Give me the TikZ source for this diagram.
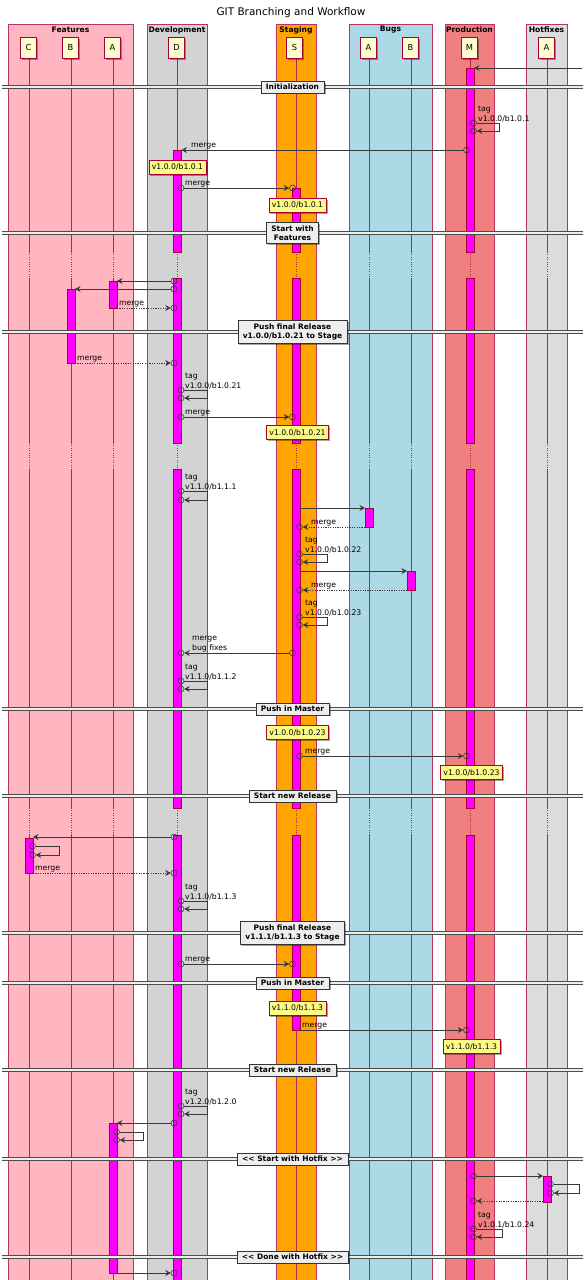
\documentclass[tikz,border=0pt]{standalone}
\usepackage{fontspec}
\setmainfont{DejaVu Sans}
\usetikzlibrary{arrows.meta,shadows}
\definecolor{pbord}{HTML}{A80036}
\definecolor{actc}{HTML}{FF00FF}
\definecolor{notec}{HTML}{FBFB86}
\definecolor{partc}{HTML}{FEFECE}
\definecolor{featc}{HTML}{FFB6C1}
\definecolor{devc}{HTML}{D3D3D3}
\definecolor{stagec}{HTML}{FFA500}
\definecolor{bugc}{HTML}{ADD8E6}
\definecolor{prodc}{HTML}{F08080}
\definecolor{hotc}{HTML}{DCDCDC}
\definecolor{arrc}{HTML}{383838}
\definecolor{divc}{HTML}{EEEEEE}
\tikzset{
 grp/.style={draw=pbord!80, line width=0.4pt},
 grplabel/.style={font=\fontsize{7.6}{9}\selectfont\bfseries, anchor=center, inner sep=0pt},
 pshadow/.style={drop shadow={shadow xshift=1.5pt, shadow yshift=-1.5pt, fill=black, opacity=0.35}},
 part/.style={draw=pbord, fill=partc, line width=0.5pt, minimum width=16pt, minimum height=21pt, inner sep=0pt, font=\fontsize{8.3}{9}\selectfont},
 life/.style={draw=pbord!85, line width=0.4pt},
 delayline/.style={draw=pbord!85, line width=0.4pt, dash pattern=on 0.8pt off 1.6pt},
 actbar/.style={draw=pbord, fill=actc, line width=0.4pt},
 msgarrow/.style={draw=arrc, line width=0.6pt, -{Stealth[length=5.5pt,width=6pt,inset=2pt]}},
 retarrow/.style={msgarrow, dash pattern=on 1.2pt off 1.2pt},
 odot/.style={circle, draw=arrc, line width=0.6pt, minimum size=6pt, inner sep=0pt},
 lbl/.style={font=\fontsize{7.7}{9.3}\selectfont, inner sep=0pt, anchor=south west, align=left},
 notebox/.style={draw=pbord, fill=notec, line width=0.5pt, font=\fontsize{7.7}{9}\selectfont, inner xsep=3pt, inner ysep=0pt, minimum height=14pt},
 divbox/.style={draw=black!80, fill=divc, line width=0.6pt, font=\fontsize{7.5}{9.3}\selectfont\bfseries, inner xsep=5pt, inner ysep=3pt, align=center},
}
\def\pxC{29}\def\pxB{71}\def\pxA{113}\def\pxD{177.5}\def\pxS{296}
\def\pxBA{369}\def\pxBB{411}\def\pxM{470}\def\pxH{547}
\newcommand\actbar[3]{\filldraw[actbar] (#1-4,#2) rectangle (#1+4,#3);}
\newcommand\divider[3]{%
 \fill[divc] (2,#1-1.5) rectangle (583,#1+1.5);
 \draw[black!70, line width=0.6pt] (2,#1-1.5) -- (583,#1-1.5) (2,#1+1.5) -- (583,#1+1.5);
 \node[divbox, pshadow] (#2) at (292.5,#1) {#3};}
\newcommand\selfloop[5]{% name, x, y1, y2, xr
 \node[odot] (#1a) at (#2,#3) {};
 \node[odot] (#1b) at (#2,#4) {};
 \coordinate (#1r) at (#5,#3);
 \coordinate (#1q) at (#5,#4);
 \draw[msgarrow] (#1a) -- (#1r) -- (#1q) -- (#1b);}
\begin{document}
\begin{tikzpicture}[x=1pt,y=-1pt]
\useasboundingbox (0,0) rectangle (588,1280);
\fill[white] (0,0) rectangle (588,1280);
\node[font=\fontsize{10.5}{12}\selectfont] (title) at (291,13) {GIT Branching and Workflow};
% groups
\draw[grp, fill=featc] (8,24) rectangle (133,1290);
\draw[grp, fill=devc] (147,24) rectangle (207,1290);
\draw[grp, fill=stagec] (276,24) rectangle (316,1290);
\draw[grp, fill=bugc] (349,24) rectangle (432,1290);
\draw[grp, fill=prodc] (445,24) rectangle (494,1290);
\draw[grp, fill=hotc] (526,24) rectangle (567,1290);
\node[grplabel] (gF) at (70.5,30) {Features};
\node[grplabel] (gD) at (177,30) {Development};
\node[grplabel] (gS) at (296,30) {Staging};
\node[grplabel] (gB) at (390.5,30) {Bugs};
\node[grplabel] (gP) at (469.5,30) {Production};
\node[grplabel] (gH) at (546.5,30) {Hotfixes};
% lifelines
\foreach \x in {\pxC,\pxB,\pxA,\pxD,\pxS,\pxBA,\pxBB,\pxM,\pxH}{
 \draw[life] (\x,58) -- (\x,252);
 \draw[delayline] (\x,252) -- (\x,278);
 \draw[life] (\x,278) -- (\x,443);
 \draw[delayline] (\x,443) -- (\x,469);
 \draw[life] (\x,469) -- (\x,808);
 \draw[delayline] (\x,808) -- (\x,835);
 \draw[life] (\x,835) -- (\x,1290);
}
% participants
\node[part, pshadow] (pC) at (\pxC-0.5,47.5) {C};
\node[part, pshadow] (pB) at (\pxB-0.5,47.5) {B};
\node[part, pshadow] (pA) at (\pxA-0.5,47.5) {A};
\node[part, pshadow] (pD) at (\pxD-1,47.5) {D};
\node[part, pshadow] (pS) at (\pxS-1.5,47.5) {S};
\node[part, pshadow] (pBA) at (\pxBA-0.5,47.5) {A};
\node[part, pshadow] (pBB) at (\pxBB-0.5,47.5) {B};
\node[part, pshadow] (pM) at (\pxM-0.5,47.5) {M};
\node[part, pshadow] (pH) at (\pxH-0.5,47.5) {A};
% activation bars
\actbar{\pxD}{150}{252}\actbar{\pxD}{278}{443}\actbar{\pxD}{469}{808}\actbar{\pxD}{835}{1290}
\actbar{\pxS}{188}{252}\actbar{\pxS}{278}{443}\actbar{\pxS}{469}{808}\actbar{\pxS}{835}{1030}
\actbar{\pxM}{68}{252}\actbar{\pxM}{278}{443}\actbar{\pxM}{469}{808}\actbar{\pxM}{835}{1290}
\actbar{\pxA}{281}{308}\actbar{\pxA}{1123}{1273}
\actbar{\pxB}{289}{363}
\actbar{\pxBA}{508}{527}
\actbar{\pxBB}{571}{590}
\actbar{\pxC}{838}{873}
\actbar{\pxH}{1176}{1202}
% messages
\coordinate (m1a) at (582,68); \coordinate (m1b) at (474,68);
\draw[msgarrow] (m1a) -- (m1b);
\divider{87}{d1}{Initialization}
\selfloop{s1}{473.5}{123}{131}{499}
\node[lbl] (s1l) at (478,122) {tag\\v1.0.0/b1.0.1};
\node[odot] (m2a) at (466.5,150) {}; \coordinate (m2b) at (181.5,150);
\draw[msgarrow] (m2a) -- (m2b);
\node[lbl] (m2l) at (191,149) {merge};
\node[notebox,pshadow] (n1) at (177.5,167) {v1.0.0/b1.0.1};
\node[odot] (m3a) at (181,188) {}; \node[odot] (m3b) at (292.5,188) {};
\draw[msgarrow] (m3a) -- (m3b);
\node[lbl] (m3l) at (185,187) {merge};
\node[notebox,pshadow] (n2) at (297.5,205) {v1.0.0/b1.0.1};
\divider{233}{d2}{Start with\\Features}
\node[odot] (m4a) at (174,281) {}; \coordinate (m4b) at (117,281);
\draw[msgarrow] (m4a) -- (m4b);
\node[odot] (m5a) at (174,289) {}; \coordinate (m5b) at (75,289);
\draw[msgarrow] (m5a) -- (m5b);
\coordinate (m6a) at (117,308); \node[odot] (m6b) at (174,308) {};
\draw[retarrow] (m6a) -- (m6b);
\node[lbl] (m6l) at (119,307) {merge};
\divider{332}{d3}{Push final Release\\v1.0.0/b1.0.21 to Stage}
\coordinate (m7a) at (75,363); \node[odot] (m7b) at (174,363) {};
\draw[retarrow] (m7a) -- (m7b);
\node[lbl] (m7l) at (77,362) {merge};
\selfloop{s2}{181}{390}{398}{207}
\node[lbl] (s2l) at (185,389) {tag\\v1.0.0/b1.0.21};
\node[odot] (m8a) at (181,417) {}; \node[odot] (m8b) at (292.5,417) {};
\draw[msgarrow] (m8a) -- (m8b);
\node[lbl] (m8l) at (185,416) {merge};
\node[notebox,pshadow] (n3) at (297.5,432.5) {v1.0.0/b1.0.21};
\selfloop{s3}{181}{491}{500}{207}
\node[lbl] (s3l) at (185,490) {tag\\v1.1.0/b1.1.1};
\coordinate (m9a) at (300,508); \coordinate (m9b) at (365,508);
\draw[msgarrow] (m9a) -- (m9b);
\coordinate (m10a) at (365,527); \node[odot] (m10b) at (299.5,527) {};
\draw[retarrow] (m10a) -- (m10b);
\node[lbl] (m10l) at (311,526) {merge};
\selfloop{s4}{299.5}{554}{562}{327}
\node[lbl] (s4l) at (305,553) {tag\\v1.0.0/b1.0.22};
\coordinate (m11a) at (300,571); \coordinate (m11b) at (407,571);
\draw[msgarrow] (m11a) -- (m11b);
\coordinate (m12a) at (407,590); \node[odot] (m12b) at (299.5,590) {};
\draw[retarrow] (m12a) -- (m12b);
\node[lbl] (m12l) at (311,589) {merge};
\selfloop{s5}{299.5}{617}{625}{327}
\node[lbl] (s5l) at (305,616) {tag\\v1.0.0/b1.0.23};
\node[odot] (m13a) at (292.5,653) {}; \node[odot] (m13b) at (181,653) {};
\draw[msgarrow] (m13a) -- (m13b);
\node[lbl] (m13l) at (192,652) {merge\\bug fixes};
\selfloop{s6}{181}{681}{689}{207}
\node[lbl] (s6l) at (185,680) {tag\\v1.1.0/b1.1.2};
\divider{709}{d4}{Push in Master}
\node[notebox,pshadow] (n4) at (297.5,732.5) {v1.0.0/b1.0.23};
\node[odot] (m14a) at (299.5,756) {}; \node[odot] (m14b) at (466.5,756) {};
\draw[msgarrow] (m14a) -- (m14b);
\node[lbl] (m14l) at (305,755) {merge};
\node[notebox,pshadow] (n5) at (471.5,772.5) {v1.0.0/b1.0.23};
\divider{796}{d5}{Start new Release}
\node[odot] (m15a) at (174,837) {}; \coordinate (m15b) at (33,837);
\draw[msgarrow] (m15a) -- (m15b);
\selfloop{s7}{32.5}{846}{855}{59}
\coordinate (m16a) at (33,873); \node[odot] (m16b) at (174,873) {};
\draw[retarrow] (m16a) -- (m16b);
\node[lbl] (m16l) at (35,872) {merge};
\selfloop{s8}{181}{901}{909}{207}
\node[lbl] (s8l) at (185,900) {tag\\v1.1.0/b1.1.3};
\divider{933}{d6}{Push final Release\\v1.1.1/b1.1.3 to Stage}
\node[odot] (m17a) at (181,964) {}; \node[odot] (m17b) at (292.5,964) {};
\draw[msgarrow] (m17a) -- (m17b);
\node[lbl] (m17l) at (185,963) {merge};
\divider{983}{d7}{Push in Master}
\node[notebox,pshadow] (n6) at (297.5,1008) {v1.1.0/b1.1.3};
\coordinate (m18a) at (300,1030); \node[odot] (m18b) at (466.5,1030) {};
\draw[msgarrow] (m18a) -- (m18b);
\node[lbl] (m18l) at (302,1029) {merge};
\node[notebox,pshadow] (n7) at (471.5,1046.5) {v1.1.0/b1.1.3};
\divider{1070}{d8}{Start new Release}
\selfloop{s9}{181}{1106}{1114}{207}
\node[lbl] (s9l) at (185,1105) {tag\\v1.2.0/b1.2.0};
\node[odot] (m19a) at (174,1123) {}; \coordinate (m19b) at (117,1123);
\draw[msgarrow] (m19a) -- (m19b);
\selfloop{s10}{116.5}{1132}{1140}{143}
\divider{1159}{d9}{<\kern0pt< Start with Hotfix >\kern0pt>}
\node[odot] (m20a) at (473.5,1176) {}; \coordinate (m20b) at (543,1176);
\draw[msgarrow] (m20a) -- (m20b);
\selfloop{s11}{550.5}{1184}{1193}{579}
\coordinate (m21a) at (543,1201); \node[odot] (m21b) at (473.5,1201) {};
\draw[retarrow] (m21a) -- (m21b);
\selfloop{s12}{473.5}{1229}{1237}{502}
\node[lbl] (s12l) at (478,1228) {tag\\v1.0.1/b1.0.24};
\divider{1257}{d10}{<\kern0pt< Done with Hotfix >\kern0pt>}
\coordinate (m22a) at (117,1273); \node[odot] (m22b) at (174,1273) {};
\draw[msgarrow] (m22a) -- (m22b);
\end{tikzpicture}
\end{document}
